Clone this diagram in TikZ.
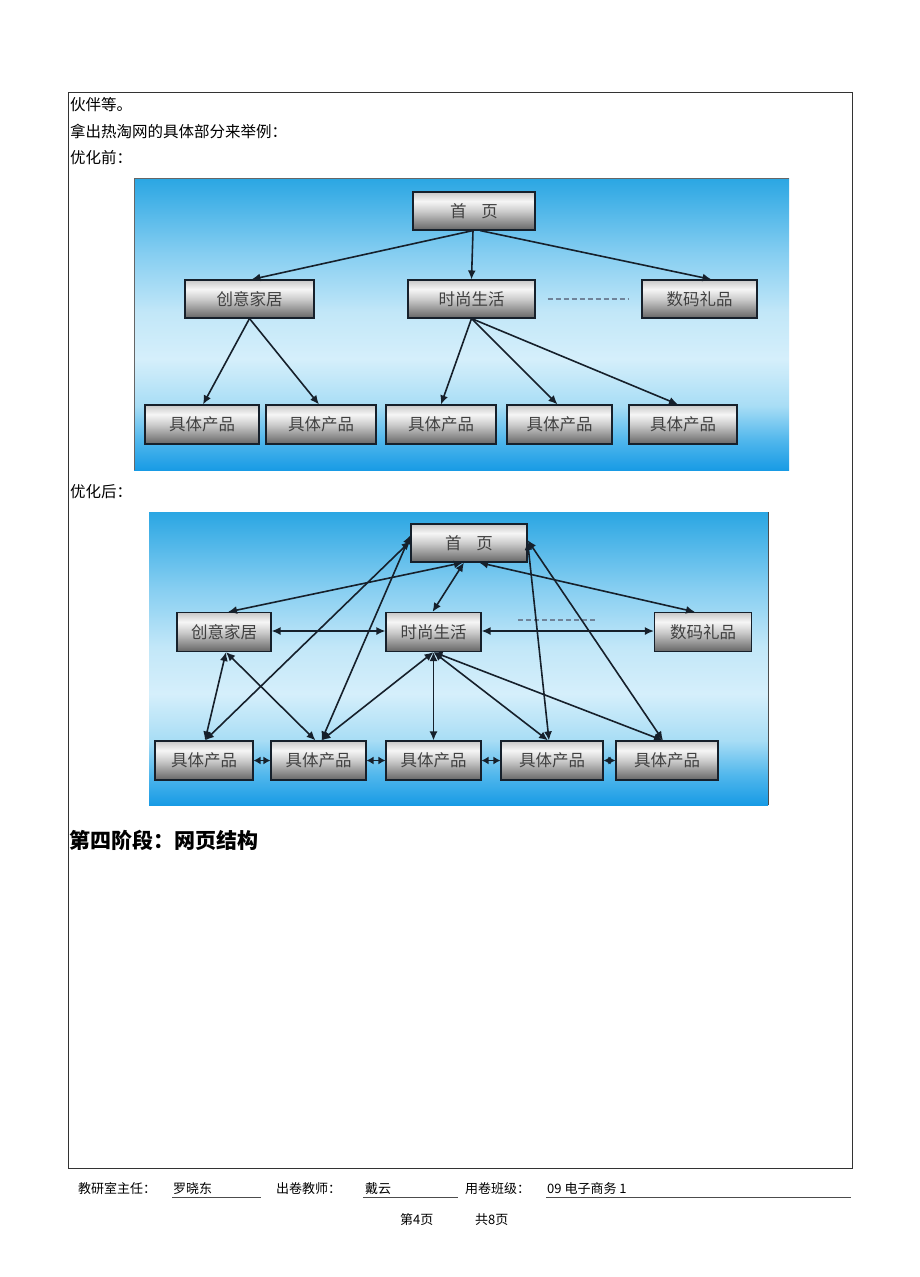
\documentclass[tikz,border=0pt]{standalone}
\usepackage{fontspec}
\newfontfamily\cjk{Noto Sans CJK SC}
\usetikzlibrary{arrows.meta}
\definecolor{bgdeep}{HTML}{189BE5}
\definecolor{bgmid}{HTML}{4FB6EC}
\definecolor{bgmid2}{HTML}{A8DDF5}
\definecolor{bglight}{HTML}{D5EFFB}
\definecolor{bglight2}{HTML}{C2E7F8}
\definecolor{bgup}{HTML}{86CEF1}
\definecolor{bgtop}{HTML}{2AA6E3}
\definecolor{nb}{HTML}{666666}
\definecolor{nm}{HTML}{CCCCCC}
\definecolor{nw}{HTML}{F6F6F6}
\definecolor{nt}{HTML}{C8C8C8}
\definecolor{linec}{HTML}{16202B}
\definecolor{dashc}{HTML}{6F8399}
\pgfdeclareverticalshading{bgshade}{100bp}{color(0bp)=(bgdeep); color(25bp)=(bgdeep); color(30bp)=(bgmid); color(36bp)=(bgmid2); color(44bp)=(bglight); color(52bp)=(bglight2); color(62bp)=(bgup); color(75bp)=(bgtop); color(100bp)=(bgtop)}
\pgfdeclareverticalshading{nodeshade}{100bp}{color(0bp)=(nb); color(25bp)=(nb); color(50bp)=(nm); color(63bp)=(nw); color(75bp)=(nt); color(100bp)=(nt)}
\tikzset{
  box/.style={draw=linec, line width=1.1pt, shading=nodeshade, text=black!75,
    font=\cjk\fontsize{16.5}{16.5}\selectfont, inner sep=0pt, minimum height=38pt},
  arr/.style={-{Latex[length=9pt,width=8pt]}, line width=1.6pt, draw=linec},
  darr/.style={{Latex[length=9pt,width=8pt]}-{Latex[length=9pt,width=8pt]}, line width=1.6pt, draw=linec},
  sarr/.style={{Latex[length=7pt,width=8pt]}-{Latex[length=7pt,width=8pt]}, line width=1.6pt, draw=linec},
  body/.style={anchor=west, inner sep=0pt, font=\cjk\fontsize{15.5}{15.5}\selectfont},
  foot/.style={anchor=west, inner sep=0pt, font=\cjk\fontsize{13}{13}\selectfont},
  dashline/.style={dash pattern=on 5pt off 3pt, line width=1.6pt, draw=dashc}
}
\begin{document}
\begin{tikzpicture}[x=1pt,y=-1pt]
\useasboundingbox (0,0) rectangle (920,1277);
\fill[white] (0,0) rectangle (920,1277);
% page frame
\draw[line width=0.8pt, black!80] (68,92) rectangle (852,1168);
% body text
\node[body] (t1) at (70,105) {伙伴等。};
\node[body] (t2) at (70,131) {拿出热淘网的具体部分来举例：};
\node[body] (t3) at (70,158) {优化前：};
\node[body] (t4) at (70,492) {优化后：};
\node[anchor=west, inner sep=0pt, font=\cjk\bfseries\fontsize{21}{21}\selectfont] (h4) at (69,840) {第四阶段：网页结构};

% ===== Diagram 1 =====
\shade[shading=bgshade] (134,178) rectangle (789,470);
\draw[black!60, line width=0.8pt] (134,470) -- (134,178) -- (789,178);
\node[box, minimum width=122pt] (H1) at (474,211) {首\hspace{0.9em}页};
\node[box, minimum width=129pt] (A1) at (249.5,299) {创意家居};
\node[box, minimum width=127pt] (B1) at (471.5,299) {时尚生活};
\node[box, minimum width=115pt] (C1) at (699.5,299) {数码礼品};
\node[box, minimum width=114pt, minimum height=39pt] (p11) at (202,424.5) {具体产品};
\node[box, minimum width=110pt, minimum height=39pt] (p12) at (321,424.5) {具体产品};
\node[box, minimum width=110pt, minimum height=39pt] (p13) at (441,424.5) {具体产品};
\node[box, minimum width=105pt, minimum height=39pt] (p14) at (559.5,424.5) {具体产品};
\node[box, minimum width=108pt, minimum height=39pt] (p15) at (683,424.5) {具体产品};
\draw[dashline] ([xshift=12pt]B1.east) -- ([xshift=-13pt]C1.west);
\draw[arr] ([xshift=-1pt]H1.south) -- ([xshift=2pt]A1.north);
\draw[arr] ([xshift=-1pt]H1.south) -- (B1.north);
\draw[arr] ([xshift=6pt]H1.south) -- ([xshift=12pt]C1.north);
\draw[arr] (A1.south) -- ([xshift=1pt]p11.north);
\draw[arr] (A1.south) -- ([xshift=-2pt]p12.north);
\draw[arr] (B1.south) -- (p13.north);
\draw[arr] (B1.south) -- ([xshift=-2pt]p14.north);
\draw[arr] (B1.south) -- ([xshift=-5pt]p15.north);

% ===== Diagram 2 =====
\shade[shading=bgshade] (149,512) rectangle (768,805);
\draw[black!70, line width=1pt] (768,512) -- (768,805);
\node[box, minimum width=116pt] (H2) at (469,543) {首\hspace{0.9em}页};
\node[box, minimum width=94pt, minimum height=39pt] (A2) at (224,632) {创意家居};
\node[box, minimum width=95pt, minimum height=39pt] (B2) at (433.5,632) {时尚生活};
\node[box, minimum width=97pt, minimum height=39pt] (C2) at (703,632) {数码礼品};
\node[box, minimum width=98pt, minimum height=39pt] (q1) at (204,760.5) {具体产品};
\node[box, minimum width=95pt, minimum height=39pt] (q2) at (318.5,760.5) {具体产品};
\node[box, minimum width=95pt, minimum height=39pt] (q3) at (433.5,760.5) {具体产品};
\node[box, minimum width=102pt, minimum height=39pt] (q4) at (552,760.5) {具体产品};
\node[box, minimum width=102pt, minimum height=39pt] (q5) at (667,760.5) {具体产品};
\draw[dashline] (518,620) -- (596,620);
% links
\draw[darr] ([xshift=-6pt]H2.south) -- ([xshift=4pt]A2.north);
\draw[darr] ([xshift=-5pt]H2.south) -- ([xshift=-1pt]B2.north);
\draw[darr] ([xshift=10pt]H2.south) -- ([xshift=-8pt]C2.north);
\draw[darr] ([yshift=2pt]H2.west) -- ([xshift=1pt]q1.north);
\draw[darr] ([yshift=8pt]H2.west) -- ([xshift=3pt]q2.north);
\draw[darr] ([yshift=2pt]H2.east) -- ([xshift=-3pt]q4.north);
\draw[darr] ([yshift=3pt]H2.east) -- ([xshift=-4pt]q5.north);
\draw[darr] ([yshift=1pt]A2.east) -- ([yshift=1pt]B2.west);
\draw[darr] ([yshift=1pt]B2.east) -- ([yshift=1pt]C2.west);
\draw[darr] ([xshift=2pt]A2.south) -- ([xshift=1pt]q1.north);
\draw[darr] ([xshift=2pt]A2.south) -- ([xshift=-3pt]q2.north);
\draw[darr] (B2.south) -- ([xshift=3pt]q2.north);
\draw[darr] (B2.south) -- (q3.north);
\draw[darr] (B2.south) -- ([xshift=-4pt]q4.north);
\draw[darr] (B2.south) -- ([xshift=-4pt]q5.north);
\draw[sarr] (q1.east) -- (q2.west);
\draw[sarr] (q2.east) -- (q3.west);
\draw[sarr] (q3.east) -- (q4.west);
\draw[sarr] (q4.east) -- (q5.west);

% ===== Footer =====
\node[foot] (f1) at (78,1189) {教研室主任：};
\node[foot] (f2) at (173,1189) {罗晓东};
\draw[black!70, line width=0.8pt] (172,1197) -- (261,1197);
\node[foot] (f3) at (276,1189) {出卷教师：};
\node[foot] (f4) at (365,1189) {戴云};
\draw[black!70, line width=0.8pt] (363,1197) -- (458,1197);
\node[foot] (f5) at (465,1189) {用卷班级：};
\node[foot] (f6) at (547,1189) {09 电子商务 1};
\draw[black!70, line width=0.8pt] (546,1197) -- (851,1197);
\node[foot] (pg1) at (400,1220) {第4页};
\node[foot] (pg2) at (475,1220) {共8页};
\end{tikzpicture}
\end{document}
